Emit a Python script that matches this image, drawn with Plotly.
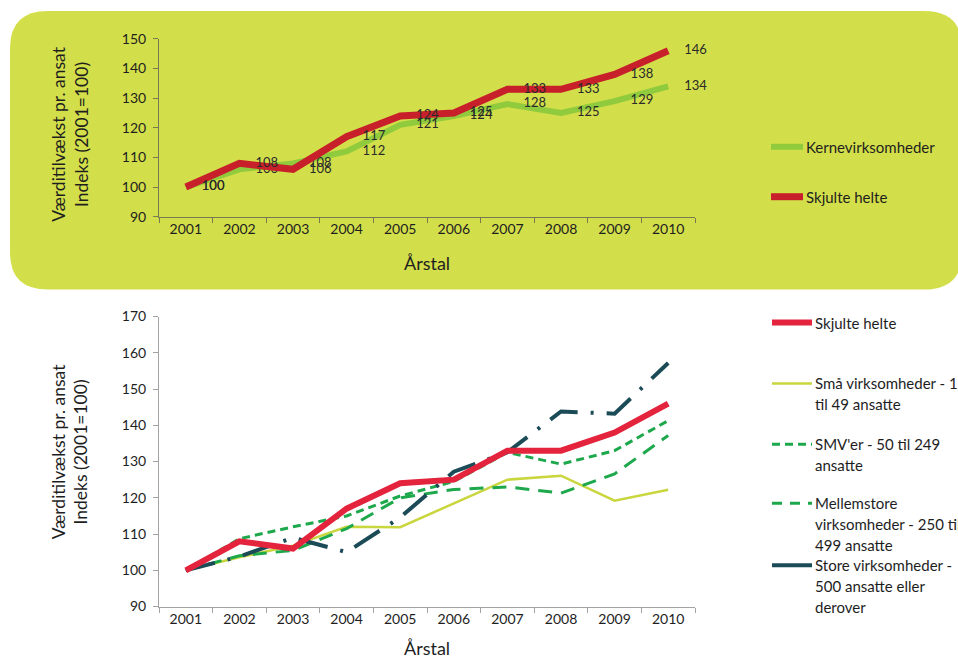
import plotly.graph_objects as go

W, H = 958, 661

years = ["2001", "2002", "2003", "2004", "2005", "2006", "2007", "2008", "2009", "2010"]

# Top chart
kerne = [100, 106, 108, 112, 121, 124, 128, 125, 129, 134]
skjulte = [100, 108, 106, 117, 124, 125, 133, 133, 138, 146]

# Bottom chart
smaa = [100, 103.6, 106.8, 112, 111.9, 118.5, 125, 126.1, 119.2, 122.2]
smv = [100, 108.7, 112, 115, 120.5, 124.5, 132.5, 129.3, 133, 141.3]
mellem = [100, 104, 105.5, 111.5, 120, 122.3, 123, 121.3, 126.6, 137.2]
store = [100, 103.8, 109, 105, 114.6, 127.2, 132.6, 143.8, 143.2, 157.2]

top_yticks = [90, 100, 110, 120, 130, 140, 150]
bot_yticks = [90, 100, 110, 120, 130, 140, 150, 160, 170]

ytitle = "Værditilvækst pr. ansat<br>Indeks (2001=100)"
xtitle = "Årstal"

FONT = "Lato"
TXT = "#1e1e1e"


def px(x):
    return x / W


def py(y):
    # the photographed page maps figure height onto rows 8..653
    return 1 - (y - 8) / 645


fig = go.Figure()

# ---- top chart traces
label_marker = dict(size=24, color="rgba(0,0,0,0)")
fig.add_trace(go.Scatter(
    x=years, y=kerne, mode="lines+markers+text", name="Kernevirksomheder",
    line=dict(color="#8fcb3c", width=6), marker=label_marker,
    text=[str(v) for v in kerne], textposition="middle right",
    textfont=dict(family=FONT, size=13, color="#2a2a2a"),
    xaxis="x", yaxis="y", cliponaxis=False, showlegend=False))
fig.add_trace(go.Scatter(
    x=years, y=skjulte, mode="lines+markers+text", name="Skjulte helte",
    line=dict(color="#c8202a", width=7), marker=label_marker,
    text=[str(v) for v in skjulte], textposition="middle right",
    textfont=dict(family=FONT, size=13, color="#2a2a2a"),
    xaxis="x", yaxis="y", cliponaxis=False, showlegend=False))

# ---- bottom chart traces
bottom_series = [
    ("Små virksomheder - 1 til 49 ansatte", smaa, dict(color="#c9d63e", width=2.5)),
    ("SMV'er - 50 til 249 ansatte", smv, dict(color="#1ea84c", width=3, dash="8px,5px")),
    ("Mellemstore virksomheder - 250 til 499 ansatte", mellem, dict(color="#1ea84c", width=3, dash="14px,9px")),
    ("Store virksomheder - 500 ansatte eller derover", store, dict(color="#1b4b57", width=4, dash="30px,13px,3px,13px")),
    ("Skjulte helte", skjulte, dict(color="#e4233d", width=6)),
]
for name, vals, ln in bottom_series:
    fig.add_trace(go.Scatter(x=years, y=vals, mode="lines", name=name, line=ln,
                             xaxis="x2", yaxis="y2", showlegend=False))

xcommon = dict(type="category", categoryorder="array", categoryarray=years,
               tickson="boundaries", ticks="outside", ticklen=5, showline=True,
               showgrid=False, zeroline=False, range=[-0.5, 9.5],
               tickfont=dict(family=FONT, size=14, color=TXT))

fig.update_layout(
    width=W, height=H, margin=dict(l=0, r=0, t=0, b=0),
    paper_bgcolor="white", plot_bgcolor="rgba(0,0,0,0)",
    font=dict(family=FONT, color=TXT),
    xaxis=dict(domain=[px(159), px(695)], anchor="y", linecolor="#77794f",
               tickcolor="#77794f", **xcommon),
    yaxis=dict(domain=[py(216), py(38)], anchor="x", range=[90, 150],
               tickvals=top_yticks, ticks="outside", ticklen=5, showline=True,
               linecolor="#77794f", tickcolor="#77794f", showgrid=False,
               zeroline=False, ticklabelstandoff=4,
               tickfont=dict(family=FONT, size=14, color=TXT)),
    xaxis2=dict(domain=[px(159), px(695)], anchor="y2", linecolor="#a3a3a3",
                tickcolor="#a3a3a3", **xcommon),
    yaxis2=dict(domain=[py(606.5), py(316)], anchor="x2", range=[90, 170],
                tickvals=bot_yticks, ticks="outside", ticklen=5, showline=True,
                linecolor="#a3a3a3", tickcolor="#a3a3a3", showgrid=False,
                zeroline=False, ticklabelstandoff=4,
                tickfont=dict(family=FONT, size=14, color=TXT)),
)

# rounded background panel for the top chart
x0, x1, y0, y1, r = px(10), px(962), py(10), py(289), 38
rx, ry = r / W, r / H
path = (f"M {x0+rx},{y0} L {x1-rx},{y0} Q {x1},{y0} {x1},{y0-ry} "
        f"L {x1},{y1+ry} Q {x1},{y1} {x1-rx},{y1} L {x0+rx},{y1} "
        f"Q {x0},{y1} {x0},{y1+ry} L {x0},{y0-ry} Q {x0},{y0} {x0+rx},{y0} Z")
fig.add_shape(type="path", path=path, xref="paper", yref="paper",
              fillcolor="#d3df4a", line=dict(width=0), layer="below")

# axis titles
for yc in (134, 452):
    fig.add_annotation(x=px(70), y=py(yc), xref="paper", yref="paper",
                       text=ytitle, textangle=-90, showarrow=False,
                       xanchor="center", yanchor="middle",
                       font=dict(family=FONT, size=17.5, color=TXT))
for yc in (262, 648):
    fig.add_annotation(x=px(427), y=py(yc), xref="paper", yref="paper",
                       text=xtitle, showarrow=False, xanchor="center",
                       yanchor="middle", font=dict(family=FONT, size=18, color=TXT))

# manual legends
top_legend = [
    (["Kernevirksomheder"], dict(color="#8fcb3c", width=6), 146),
    (["Skjulte helte"], dict(color="#c8202a", width=7), 196),
]
bot_legend = [
    (["Skjulte helte"], dict(color="#e4233d", width=6), 322),
    (["Små virksomheder - 1", "til 49 ansatte"], dict(color="#c9d63e", width=2.5), 383),
    (["SMV'er - 50 til 249", "ansatte"], dict(color="#1ea84c", width=3, dash="8px,5px"), 444),
    (["Mellemstore", "virksomheder - 250 til", "499 ansatte"], dict(color="#1ea84c", width=3, dash="10px,8px"), 503),
    (["Store virksomheder -", "500 ansatte eller", "derover"], dict(color="#1b4b57", width=4), 565),
]
for items, lx0, lx1, tx in ((top_legend, 771, 803, 804), (bot_legend, 772, 812, 813)):
    for lines, ln, yy in items:
        fig.add_shape(type="line", xref="paper", yref="paper",
                      x0=px(lx0), x1=px(lx1), y0=py(yy), y1=py(yy), line=ln)
        for i, t in enumerate(lines):
            fig.add_annotation(x=px(tx), y=py(yy + 21 * i), xref="paper", yref="paper",
                               text=t, showarrow=False, xanchor="left", yanchor="middle",
                               font=dict(family=FONT, size=15, color=TXT))

fig.write_html("out.html")
